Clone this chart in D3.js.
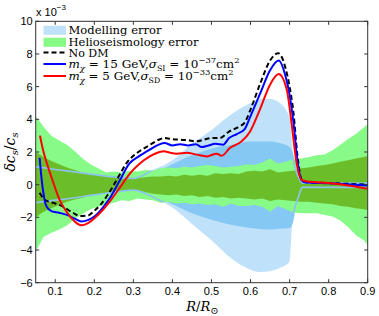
<!DOCTYPE html>
<html>
<head>
<meta charset="utf-8">
<script src="https://cdn.jsdelivr.net/npm/d3@7"></script>
<style>
  body { margin: 0; background: #fff; }
  text { font-family: "Liberation Sans", Arial, sans-serif; }
  text.serif { font-family: "DejaVu Serif", "Liberation Serif", serif; }
</style>
</head>
<body>
<svg id="chart"></svg>
<script>
// ---- data (values in units of 1e-3) ----
const xTicks = [0.1, 0.2, 0.3, 0.4, 0.5, 0.6, 0.7, 0.8, 0.9];
const yTicks = [-6, -4, -2, 0, 2, 4, 6, 8, 10];

// modelling error, outer band
const modOuterX  = [0.05, 0.1, 0.15, 0.2, 0.25, 0.3, 0.35, 0.4, 0.45, 0.5, 0.55, 0.6, 0.625, 0.65, 0.675, 0.7, 0.705, 0.71, 0.722, 0.733, 0.9];
const modOuterHi = [1.1, 0.93, 0.78, 0.62, 0.48, 0.38, 0.9, 1.5, 2.5, 3.35, 4.3, 5.0, 5.25, 5.25, 5.0, 4.1, 3.0, 1.5, 0.5, 0.1, 0.1];
const modOuterLo = [-1.1, -0.95, -0.8, -0.62, -0.47, -0.33, -0.75, -1.4, -2.4, -3.4, -4.5, -5.2, -5.35, -5.3, -5.1, -4.7, -2.9, -1.8, -0.8, -0.17, -0.17];

// modelling error, inner band
const modInnerX  = [0.28, 0.3, 0.35, 0.4, 0.45, 0.5, 0.55, 0.6, 0.65, 0.675, 0.7, 0.71, 0.72];
const modInnerHi = [0.2, 0.4, 0.7, 1.25, 1.8, 2.2, 2.45, 2.65, 2.65, 2.55, 2.3, 1.8, 0.3];
const modInnerLo = [-0.2, -0.4, -0.7, -1.2, -1.75, -2.15, -2.45, -2.65, -2.75, -2.7, -2.65, -2.2, -0.3];

// helioseismology error
const helioX   = [0.05, 0.07, 0.09, 0.11, 0.13, 0.15, 0.17, 0.19, 0.21, 0.23, 0.25, 0.27, 0.29, 0.31, 0.33, 0.35, 0.37, 0.39, 0.41, 0.43, 0.45, 0.47, 0.49, 0.51, 0.53, 0.55, 0.57, 0.59, 0.61, 0.63, 0.65, 0.67, 0.69, 0.71, 0.73, 0.75, 0.77, 0.79, 0.81, 0.83, 0.85, 0.87, 0.89, 0.9];
const helio2Hi = [4.2, 3.55, 3.0, 2.7, 2.45, 2.05, 1.6, 1.25, 1.0, 0.75, 0.8, 0.75, 0.85, 0.8, 0.9, 0.85, 1.0, 1.05, 1.0, 1.1, 1.05, 1.15, 1.2, 1.15, 1.05, 1.1, 1.15, 1.25, 1.2, 1.35, 1.6, 1.3, 1.4, 1.55, 1.6, 1.7, 1.8, 1.85, 2.1, 2.45, 2.8, 3.1, 3.5, 3.7];
const helio2Lo = [-4.1, -3.2, -2.95, -2.75, -2.5, -2.1, -1.8, -1.5, -1.35, -1.2, -1.1, -0.95, -1.0, -0.85, -0.9, -0.95, -1.1, -1.05, -1.15, -1.1, -1.2, -1.15, -1.25, -1.2, -1.35, -1.15, -1.3, -1.3, -1.25, -1.35, -1.65, -1.3, -1.5, -1.7, -1.75, -1.75, -1.75, -1.85, -1.95, -2.2, -2.6, -3.1, -3.4, -3.7];
const helio1Hi = [2.0, 1.7, 1.45, 1.25, 1.05, 0.9, 0.75, 0.65, 0.6, 0.55, 0.5, 0.45, 0.42, 0.4, 0.45, 0.5, 0.5, 0.55, 0.5, 0.6, 0.55, 0.6, 0.55, 0.7, 0.65, 0.7, 0.65, 0.8, 0.85, 0.8, 0.95, 0.75, 0.8, 0.85, 1.0, 1.05, 1.15, 1.2, 1.3, 1.4, 1.5, 1.6, 1.7, 1.75];
const helio1Lo = [-2.0, -1.65, -1.45, -1.25, -1.05, -0.9, -0.8, -0.65, -0.55, -0.5, -0.42, -0.38, -0.33, -0.32, -0.45, -0.55, -0.6, -0.65, -0.6, -0.7, -0.65, -0.75, -0.7, -0.8, -0.75, -0.85, -0.8, -0.85, -0.9, -0.85, -1.0, -0.9, -0.95, -1.0, -1.05, -1.05, -1.1, -1.15, -1.2, -1.3, -1.35, -1.45, -1.5, -1.55];

// sound speed deviations
const noDmX = [0.06, 0.07, 0.085, 0.1, 0.12, 0.145, 0.165, 0.185, 0.2, 0.215, 0.235, 0.26, 0.285, 0.31, 0.34, 0.365, 0.38, 0.4, 0.42, 0.44, 0.46, 0.48, 0.5, 0.52, 0.545, 0.57, 0.585, 0.6, 0.625, 0.65, 0.671, 0.69, 0.7, 0.71, 0.72, 0.73, 0.74, 0.8, 0.9];
const noDmY = [-0.5, -0.85, -1.05, -1.15, -1.35, -1.72, -1.92, -1.88, -1.6, -1.25, -0.6, 0.4, 1.4, 1.95, 2.4, 2.75, 2.85, 2.78, 2.75, 2.72, 2.65, 2.75, 2.85, 2.85, 3.25, 3.55, 3.8, 4.6, 6.2, 7.6, 8.05, 7.1, 6.0, 4.4, 1.8, 0.35, 0.15, 0.1, 0.0];

const siX = [0.06, 0.064, 0.069, 0.077, 0.09, 0.11, 0.13, 0.15, 0.167, 0.185, 0.2, 0.215, 0.24, 0.265, 0.29, 0.315, 0.34, 0.365, 0.38, 0.4, 0.42, 0.44, 0.46, 0.475, 0.49, 0.51, 0.53, 0.545, 0.565, 0.585, 0.6, 0.625, 0.65, 0.672, 0.69, 0.7, 0.71, 0.72, 0.73, 0.74, 0.8, 0.9];
const siY = [1.65, 0.6, -0.4, -1.3, -1.62, -1.72, -1.85, -2.08, -2.25, -2.15, -1.95, -1.6, -0.82, 0.25, 1.3, 1.75, 2.12, 2.45, 2.55, 2.4, 2.48, 2.4, 2.48, 2.3, 2.38, 2.5, 2.45, 2.85, 3.1, 3.4, 4.2, 5.6, 7.0, 7.6, 6.6, 5.5, 3.8, 1.5, 0.3, 0.15, 0.08, -0.05];

const sdX = [0.061, 0.068, 0.077, 0.094, 0.111, 0.128, 0.15, 0.167, 0.184, 0.21, 0.24, 0.265, 0.29, 0.316, 0.342, 0.365, 0.377, 0.395, 0.411, 0.437, 0.462, 0.488, 0.513, 0.526, 0.547, 0.577, 0.599, 0.624, 0.65, 0.672, 0.693, 0.705, 0.718, 0.731, 0.745, 0.8, 0.85, 0.9];
const sdY = [3.0, 2.2, 1.43, 0.2, -0.92, -1.63, -2.25, -2.49, -2.35, -1.84, -1.02, -0.2, 0.65, 1.28, 1.73, 1.98, 2.05, 1.95, 1.9, 1.95, 1.84, 1.73, 1.9, 1.77, 2.24, 2.65, 3.26, 4.6, 6.12, 6.77, 5.8, 3.77, 1.32, 0.3, 0.2, 0.1, -0.05, -0.25];

// ---- layout ----
const W = 379, H = 316;
const margin = {top: 21.3, right: 11.3, bottom: 33.3, left: 35.7};
const innerW = W - margin.left - margin.right;
const innerH = H - margin.top - margin.bottom;

const col = {
  modOuter: "#bfe2fa",
  modInner: "#84c8f3",
  modLine: "#8cc4ec",
  helio2: "#88fa88",
  helio1: "#6cbd2a"
};

const svg = d3.select("#chart").attr("width", W).attr("height", H);
const g = svg.append("g").attr("transform", `translate(${margin.left},${margin.top})`);

const x = d3.scaleLinear().domain([0.05, 0.9]).range([0, innerW]);
const y = d3.scaleLinear().domain([-6, 10]).range([innerH, 0]);

function band(xs, hi, lo, curve) {
  const pts = xs.map((v, i) => ({x: v, hi: hi[i], lo: lo[i]}));
  return d3.area().curve(curve)
    .x(d => x(d.x)).y0(d => y(d.lo)).y1(d => y(d.hi))(pts);
}
function line(xs, ys, curve) {
  const pts = xs.map((v, i) => [v, ys[i]]);
  return d3.line().curve(curve).x(d => x(d[0])).y(d => y(d[1]))(pts);
}

const defs = g.append("defs");
defs.append("clipPath").attr("id", "clip")
  .append("rect").attr("width", innerW).attr("height", innerH);
// outline of the modelling band only shows where it lies over the green
defs.append("clipPath").attr("id", "greenClip")
  .append("path").attr("d", band(helioX, helio2Hi, helio2Lo, d3.curveLinear));

const plot = g.append("g").attr("clip-path", "url(#clip)");

plot.append("path").attr("d", band(modOuterX, modOuterHi, modOuterLo, d3.curveMonotoneX)).attr("fill", col.modOuter);
plot.append("path").attr("d", band(modInnerX, modInnerHi, modInnerLo, d3.curveMonotoneX)).attr("fill", col.modInner);
plot.append("path").attr("d", band(helioX, helio2Hi, helio2Lo, d3.curveLinear)).attr("fill", col.helio2);
plot.append("path").attr("d", band(helioX, helio1Hi, helio1Lo, d3.curveLinear)).attr("fill", col.helio1);

const edges = plot.append("g").attr("clip-path", "url(#greenClip)");
[modOuterHi, modOuterLo].forEach(ys => {
  edges.append("path").attr("d", line(modOuterX, ys, d3.curveMonotoneX))
    .attr("fill", "none").attr("stroke", col.modLine).attr("stroke-width", 1.7);
});

plot.append("path").attr("d", line(noDmX, noDmY, d3.curveMonotoneX))
  .attr("fill", "none").attr("stroke", "#000").attr("stroke-width", 2).attr("stroke-dasharray", "5,3");
plot.append("path").attr("d", line(siX, siY, d3.curveMonotoneX))
  .attr("fill", "none").attr("stroke", "#0000ff").attr("stroke-width", 2);
plot.append("path").attr("d", line(sdX, sdY, d3.curveMonotoneX))
  .attr("fill", "none").attr("stroke", "#ff0000").attr("stroke-width", 2);

// ---- axes (MATLAB style, ticks inside, box) ----
const axCol = "#333";
g.append("rect").attr("width", innerW).attr("height", innerH)
  .attr("fill", "none").attr("stroke", axCol).attr("stroke-width", 1);

const tickLen = 3.5;
xTicks.forEach(t => {
  g.append("line").attr("x1", x(t)).attr("x2", x(t)).attr("y1", innerH).attr("y2", innerH - tickLen).attr("stroke", axCol);
  g.append("line").attr("x1", x(t)).attr("x2", x(t)).attr("y1", 0).attr("y2", tickLen).attr("stroke", axCol);
  g.append("text").attr("x", x(t)).attr("y", innerH + 12.5)
    .attr("text-anchor", "middle").attr("font-size", 11).text(d3.format(".1f")(t));
});
yTicks.forEach(t => {
  g.append("line").attr("x1", 0).attr("x2", tickLen).attr("y1", y(t)).attr("y2", y(t)).attr("stroke", axCol);
  g.append("line").attr("x1", innerW).attr("x2", innerW - tickLen).attr("y1", y(t)).attr("y2", y(t)).attr("stroke", axCol);
  g.append("text").attr("x", -3).attr("y", y(t) + 4)
    .attr("text-anchor", "end").attr("font-size", 11).text(t < 0 ? "\u2212" + Math.abs(t) : t);
});

// exponent label
const ex = svg.append("text").attr("x", 36).attr("y", 16).attr("font-size", 11);
ex.append("tspan").text("x 10");
ex.append("tspan").attr("dy", -6).attr("font-size", 8).text("\u22123");

// axis titles
const xl = svg.append("text").attr("class", "serif").attr("x", margin.left + x(0.5) - 9).attr("y", 311)
  .attr("text-anchor", "middle").attr("font-size", 13).attr("font-style", "italic");
xl.append("tspan").text("R");
xl.append("tspan").attr("font-style", "normal").text("/");
xl.append("tspan").text("R");
xl.append("tspan").attr("dy", 3).attr("font-size", 10).attr("font-style", "normal").text("\u2299");

const yl = svg.append("text").attr("class", "serif")
  .attr("transform", `translate(15,${margin.top + y(2)}) rotate(-90)`)
  .attr("text-anchor", "middle").attr("font-size", 14).attr("font-style", "italic");
yl.append("tspan").text("\u03b4c");
yl.append("tspan").attr("dy", 3).attr("font-size", 10).text("s");
yl.append("tspan").attr("dy", -3).attr("font-style", "normal").text("/");
yl.append("tspan").text("c");
yl.append("tspan").attr("dy", 3).attr("font-size", 10).text("s");

// ---- legend ----
const leg = svg.append("g");
const lx0 = 43.5, lx1 = 66, tx = 68.5;
const rows = [30.3, 42.3, 52.5, 64, 76];
leg.append("rect").attr("x", lx0).attr("y", rows[0] - 4.5).attr("width", lx1 - lx0).attr("height", 9).attr("fill", col.modOuter);
leg.append("rect").attr("x", lx0).attr("y", rows[1] - 4.5).attr("width", lx1 - lx0).attr("height", 9).attr("fill", col.helio2);
leg.append("line").attr("x1", lx0).attr("x2", lx1).attr("y1", rows[2]).attr("y2", rows[2])
  .attr("stroke", "#000").attr("stroke-width", 2).attr("stroke-dasharray", "5,3");
leg.append("line").attr("x1", lx0).attr("x2", lx1).attr("y1", rows[3]).attr("y2", rows[3]).attr("stroke", "#0000ff").attr("stroke-width", 2);
leg.append("line").attr("x1", lx0).attr("x2", lx1).attr("y1", rows[4]).attr("y2", rows[4]).attr("stroke", "#ff0000").attr("stroke-width", 2);

const fs = 11.5;
function legText(yy, len) {
  return leg.append("text").attr("class", "serif").attr("x", tx).attr("y", yy + 4)
    .attr("font-size", fs).attr("textLength", len).attr("lengthAdjust", "spacingAndGlyphs");
}
legText(rows[0], 93).text("Modelling error");
legText(rows[1], 130).text("Helioseismology error");
legText(rows[2], 40).text("No DM");

function wimpLabel(yy, mass, sub, exp, len) {
  const t = legText(yy, len);
  t.append("tspan").attr("font-style", "italic").text("m");
  t.append("tspan").attr("font-style", "italic").attr("dy", 2.5).attr("font-size", 8).text("\u03c7");
  t.append("tspan").attr("dy", -2.5).text(` = ${mass} GeV,`);
  t.append("tspan").attr("font-style", "italic").text("\u03c3");
  t.append("tspan").attr("dy", 2.5).attr("font-size", 7.5).text(sub);
  t.append("tspan").attr("dy", -2.5).text(" = 10");
  t.append("tspan").attr("dy", -5).attr("font-size", 8).text("\u2212" + exp);
  t.append("tspan").attr("dy", 5).text("cm");
  t.append("tspan").attr("dy", -5).attr("font-size", 8).text("2");
}
wimpLabel(rows[3], 15, "SI", 37, 171);
wimpLabel(rows[4], 5, "SD", 33, 165);
</script>
</body>
</html>
